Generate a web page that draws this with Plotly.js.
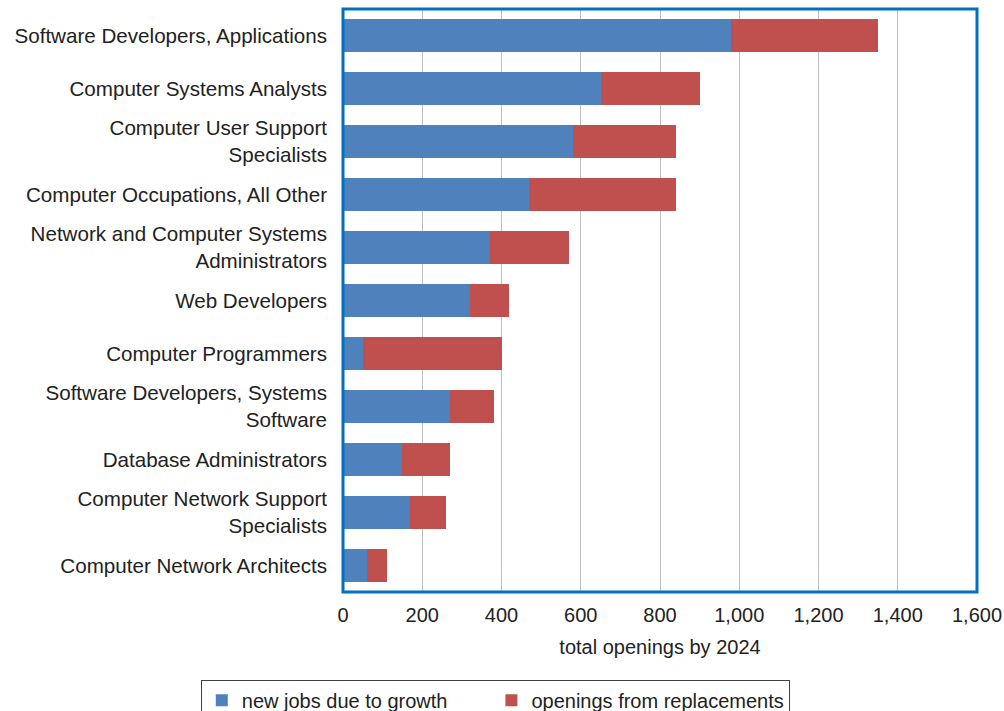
<!DOCTYPE html>
<html>
<head>
<meta charset="utf-8">
<script src="https://cdn.plot.ly/plotly-3.0.1.min.js"></script>
<style>html,body{margin:0;padding:0;background:#fff;}#chart{width:1004px;height:711px;}</style>
</head>
<body>
<div id="chart"></div>
<script>
var categories = [
  "Software Developers, Applications",
  "Computer Systems Analysts",
  "Computer User Support<br>Specialists",
  "Computer Occupations, All Other",
  "Network and Computer Systems<br>Administrators",
  "Web Developers",
  "Computer Programmers",
  "Software Developers, Systems<br>Software",
  "Database Administrators",
  "Computer Network Support<br>Specialists",
  "Computer Network Architects"
];
var growth = [980, 650, 580, 470, 370, 320, 50, 270, 150, 170, 60];
var replacements = [370, 250, 260, 370, 200, 100, 350, 110, 120, 90, 50];
var xTicks = [0, 200, 400, 600, 800, 1000, 1200, 1400, 1600];
var xTickLabels = ["0", "200", "400", "600", "800", "1,000", "1,200", "1,400", "1,600"];
var seriesNames = ["new jobs due to growth", "openings from replacements"];

var font = {family: "Liberation Sans, Arial, sans-serif", size: 20, color: "#222"};
var catFont = {family: "Liberation Sans, Arial, sans-serif", size: 20.6, color: "#222"};
var pad = "\u00a0\u00a0\u00a0\u00a0\u00a0\u00a0\u00a0";

var traces = [
  {type: "bar", orientation: "h", name: seriesNames[0] + pad, y: categories, x: growth,
   marker: {color: "#4F81BD"}},
  {type: "bar", orientation: "h", name: seriesNames[1], y: categories, x: replacements,
   marker: {color: "#C0504D"}}
];

var layout = {
  width: 1004, height: 711,
  margin: {l: 343, r: 27, t: 9, b: 119},
  barmode: "stack",
  bargap: 0.38,
  paper_bgcolor: "#fff", plot_bgcolor: "#fff",
  font: font,
  showlegend: true,
  legend: {
    orientation: "h", xref: "container", yref: "container",
    x: 0.2, xanchor: "left", y: 0.044, yanchor: "top",
    bordercolor: "#404040", borderwidth: 1, font: font,
    traceorder: "normal", itemwidth: 30,
    tracegroupgap: 0
  },
  xaxis: {
    range: [0, 1600], tickvals: xTicks, ticktext: xTickLabels,
    showgrid: true, gridcolor: "#BFBFBF", gridwidth: 1,
    zeroline: false, showline: false, ticks: "", ticklen: 0,
    tickfont: font, automargin: false, ticklabelstandoff: 9,
    title: {text: "total openings by 2024", font: font, standoff: 14},
    fixedrange: true
  },
  yaxis: {
    autorange: "reversed", type: "category",
    showgrid: false, zeroline: false, showline: false, ticks: "",
    ticklabelstandoff: 15, tickfont: catFont, fixedrange: true, automargin: false
  },
  shapes: [
    {type: "rect", xref: "paper", yref: "paper", x0: 0, x1: 1, y0: 0, y1: 1,
     line: {color: "#0070C0", width: 3}, fillcolor: "rgba(0,0,0,0)", layer: "above"}
  ]
};

Plotly.newPlot("chart", traces, layout, {displayModeBar: false, staticPlot: true});
</script>
</body>
</html>
